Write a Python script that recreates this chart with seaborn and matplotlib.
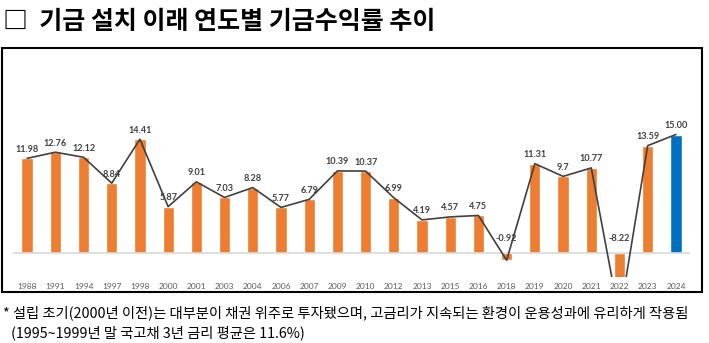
import matplotlib
matplotlib.use("Agg")
import matplotlib.pyplot as plt
import matplotlib.patches as mpatches
import seaborn as sns
import numpy as np
import pandas as pd

years = ["1988", "1991", "1994", "1997", "1998", "2000", "2001", "2003", "2004",
         "2006", "2007", "2009", "2010", "2012", "2013", "2015", "2016", "2018",
         "2019", "2020", "2021", "2022", "2023", "2024"]
returns = [11.98, 12.76, 12.12, 8.84, 14.41, 5.87, 9.01, 7.03, 8.28,
           5.77, 6.79, 10.39, 10.37, 6.99, 4.19, 4.57, 4.75, -0.92,
           11.31, 9.7, 10.77, -8.22, 13.59, 15.00]
labels = ["11.98", "12.76", "12.12", "8.84", "14.41", "5.87", "9.01", "7.03", "8.28",
          "5.77", "6.79", "10.39", "10.37", "6.99", "4.19", "4.57", "4.75", "-0.92",
          "11.31", "9.7", "10.77", "-8.22", "13.59", "15.00"]
title = "□  기금 설치 이래 연도별 기금수익률 추이"
note1 = "* 설립 초기(2000년 이전)는 대부분이 채권 위주로 투자됐으며, 고금리가 지속되는 환경이 운용성과에 유리하게 작용됨"
note2 = "(1995~1999년 말 국고채 3년 금리 평균은 11.6%)"

ORANGE = "#ED7D31"
BLUE = "#0070C0"

df = pd.DataFrame({"year": years, "ret": returns})
colors = {y: (BLUE if y == years[-1] else ORANGE) for y in years}

sns.set_theme(style="white")
plt.rcParams['font.family'] = ['Noto Sans CJK KR', 'DejaVu Sans']

W, H = 709, 343
fig = plt.figure(figsize=(W / 100, H / 100), dpi=100)
n = len(years)
left_px, right_px, top_px, bot_px = 13, 690, 50, 277
ax = fig.add_axes([left_px / W, 1 - bot_px / H, (right_px - left_px) / W, (bot_px - top_px) / H])

sns.barplot(data=df, x="year", y="ret", hue="year", palette=colors, legend=False,
            width=0.4, ax=ax, saturation=1)
ax.plot(np.arange(n), df["ret"], color="#404040", lw=1.2, zorder=3)
ax.axhline(0, color="#D9D9D9", lw=1.2, zorder=1)

ax.set_xlim(-0.5, n - 0.5)
ax.set_ylim(-3.04, 25.7)
ax.set_xlabel("")
ax.set_ylabel("")
ax.set_yticks([])
for s in ax.spines.values():
    s.set_visible(False)
ax.tick_params(axis="x", length=0, pad=4, labelsize=6, labelcolor="#595959")
for t in ax.get_xticklabels():
    t.set_fontfamily(["Lato", "DejaVu Sans"])

for i, (v, lab) in enumerate(zip(df["ret"], labels)):
    off = 6.5 if v >= 0 else 10.5
    ax.annotate(lab, (i, max(v, 0)), xytext=(0, off), textcoords="offset points",
                ha="center", va="center", fontsize=6.6, fontweight="bold",
                color="#404040", family=["Lato", "DejaVu Sans"], zorder=4,
                annotation_clip=False)

fig.patches.append(mpatches.Rectangle((2 / W, 1 - 292 / H), 700 / W, 244 / H,
                                      transform=fig.transFigure, fill=False,
                                      edgecolor="black", lw=1.5))

fig.text(3 / W, 1 - 22 / H, title, fontsize=18, fontweight="bold",
         va="center", ha="left", color="black")
fig.text(3 / W, 1 - 313 / H, note1, fontsize=10.3, va="center", ha="left", color="black")
fig.text(11 / W, 1 - 333 / H, note2, fontsize=10.3, va="center", ha="left", color="black")

fig.savefig("out.png", dpi=100)
